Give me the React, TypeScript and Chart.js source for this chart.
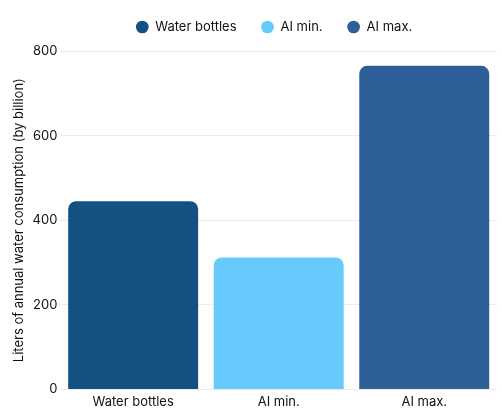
import React, { useEffect, useRef } from "react";
import { Chart, registerables } from "chart.js";

Chart.register(...registerables);

const categories = ["Water bottles", "AI min.", "AI max."];
const seriesNames = ["Water bottles", "AI min.", "AI max."];
const seriesValues = [445, 312, 765];
const seriesColors = ["#155082", "#66cbfc", "#2e5f98"];
const yTicks = [0, 200, 400, 600, 800];

const legendSpacing = {
  id: "legendSpacing",
  beforeInit(chart: any) {
    const legend = chart.legend;
    if (!legend) return;
    const origFit = legend.fit;
    legend.fit = function () {
      origFit.call(this);
      this.height += 7.5;
    };
  },
  afterLayout(chart: any) {
    const legend = chart.legend;
    if (legend) legend.left += 40;
  },
};

export default function App() {
  const ref = useRef<HTMLCanvasElement | null>(null);

  useEffect(() => {
    if (!ref.current) return;
    const font = "Inter, 'DejaVu Sans', sans-serif";
    const datasets = seriesNames.map((name, i) => ({
      label: name,
      data: categories.map((_, j) => (j === i ? seriesValues[i] : null)),
      backgroundColor: seriesColors[i],
      borderRadius: 8,
      borderSkipped: "start" as const,
      categoryPercentage: 1,
      barPercentage: 0.893,
      skipNull: true,
    }));
    const chart = new Chart(ref.current, {
      type: "bar",
      data: { labels: categories, datasets },
      plugins: [legendSpacing],
      options: {
        animation: false,
        responsive: false,
        maintainAspectRatio: false,
        layout: { padding: { left: 11, right: 5, top: -4, bottom: 4 } },
        plugins: {
          legend: {
            position: "top",
            labels: {
              usePointStyle: true,
              pointStyle: "circle",
              boxWidth: 13,
              boxHeight: 9,
              padding: 24.5,
              color: "#111",
              font: { family: font, size: 13 },
            },
          },
          tooltip: { enabled: false },
        },
        scales: {
          x: {
            grid: { display: false, drawTicks: false },
            border: { display: false },
            ticks: { color: "#111", font: { family: font, size: 13 }, padding: 5 },
          },
          y: {
            min: 0,
            max: 800,
            afterBuildTicks: (axis: any) => {
              axis.ticks = yTicks.map((v) => ({ value: v }));
            },
            grid: { color: "#ececec", drawTicks: false },
            border: { display: false },
            ticks: { color: "#111", font: { family: font, size: 13 }, padding: 3 },
            title: {
              display: true,
              text: "Liters of annual water consumption (by billion)",
              color: "#111",
              font: { family: font, size: 13 },
              padding: { top: 0, bottom: 3 },
            },
          },
        },
      },
    });
    return () => chart.destroy();
  }, []);

  return (
    <div style={{ position: "fixed", left: 0, top: 0, width: 502, height: 419, background: "#fff" }}>
      <canvas ref={ref} width={502} height={419} style={{ width: 502, height: 419 }} />
    </div>
  );
}
